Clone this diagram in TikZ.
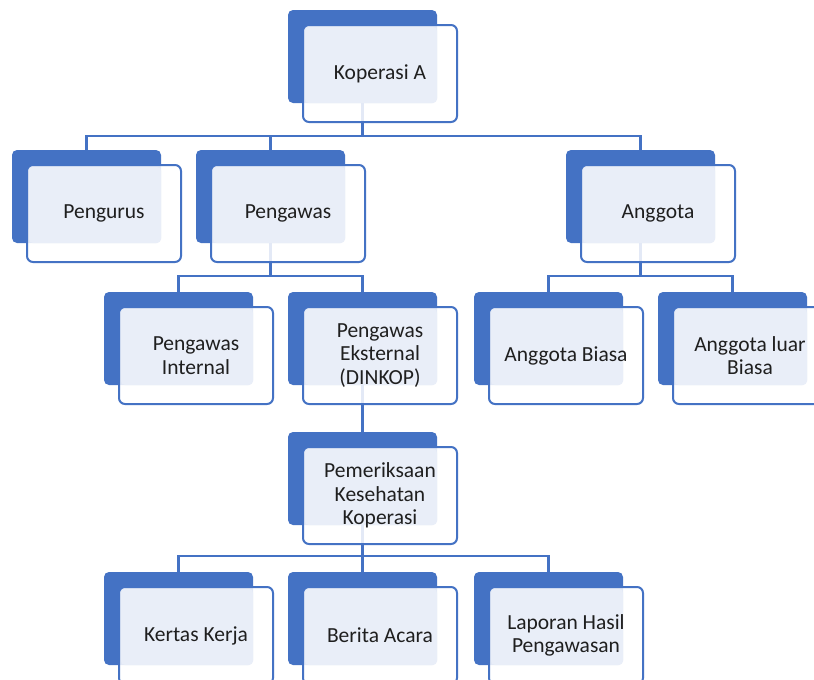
\documentclass[tikz,border=0pt]{standalone}
\usepackage{fontspec}
\setmainfont{Carlito}
\usetikzlibrary{backgrounds}
\definecolor{obBlue}{HTML}{4472C4}
\definecolor{obLight}{HTML}{E9EEF8}
\definecolor{obText}{HTML}{1F1F1F}
\tikzset{
  backbox/.style={fill=obBlue, draw=none, rounded corners=5pt, minimum width=149pt, minimum height=93pt, inner sep=0pt, outer sep=0pt, anchor=north west},
  frontbox/.style={fill=white, fill opacity=0.85, draw=obBlue, draw opacity=1, line width=2pt, rounded corners=6pt, minimum width=154pt, minimum height=97pt, inner sep=0pt, outer sep=0pt, anchor=north west},
  lightbox/.style={fill=obLight, draw=none, rounded corners=4pt, minimum width=132pt, minimum height=76pt, inner sep=0pt, outer sep=0pt, anchor=north west},
  boxtext/.style={text=obText, font=\fontsize{21.5}{23.5}\selectfont, align=center, inner sep=0pt},
  link/.style={draw=obBlue, line width=2.2pt},
}
\newcommand{\orgitem}[4]{%
  \node[backbox] (#1B) at (#2,#3) {};
  \node[frontbox, xshift=15pt, yshift=-15pt] (#1F) at (#2,#3) {};
  \node[lightbox, xshift=17pt, yshift=-17pt] (#1L) at (#2,#3) {};
  \node[boxtext, xshift=92pt, yshift=-63.5pt] (#1) at (#2,#3) {#4};
}
\begin{document}
\begin{tikzpicture}[x=1pt, y=-1pt]
  \useasboundingbox (0,0) rectangle (814,680);
  \clip (0,0) rectangle (814,680);

  \orgitem{kop}{288}{10}{Koperasi A}
  \orgitem{pengurus}{12}{150}{Pengurus}
  \orgitem{pengawas}{196}{150}{Pengawas}
  \orgitem{anggota}{566}{150}{Anggota}
  \orgitem{pint}{104}{292}{Pengawas\\Internal}
  \orgitem{pext}{288}{292}{Pengawas\\Eksternal\\(DINKOP)}
  \orgitem{abiasa}{474}{292}{Anggota Biasa}
  \orgitem{aluar}{658}{292}{Anggota luar\\Biasa}
  \orgitem{periksa}{288}{432}{Pemeriksaan\\Kesehatan\\Koperasi}
  \orgitem{kertas}{104}{572}{Kertas Kerja}
  \orgitem{berita}{288}{572}{Berita Acara}
  \orgitem{laporan}{474}{572}{Laporan Hasil\\Pengawasan}

  \coordinate (busA) at (0,136);
  \coordinate (busB) at (0,276);
  \coordinate (busC) at (0,556);

  \begin{pgfonlayer}{background}
    \fill[white] (0,0) rectangle (814,680);
    \draw[link] (kopB.center) -- (kopB.center |- busA);
    \draw[link] (pengurusB.north) |- (anggotaB.north |- busA) -- (anggotaB.north);
    \draw[link] (pengawasB.north |- busA) -- (pengawasB.north);

    \draw[link] (pengawasB.center) -- (pengawasB.center |- busB);
    \draw[link] (pintB.north) |- (pextB.north |- busB) -- (pextB.north);

    \draw[link] (anggotaB.center) -- (anggotaB.center |- busB);
    \draw[link] (abiasaB.north) |- (aluarB.north |- busB) -- (aluarB.north);

    \draw[link] (pextB.center) -- (periksaB.north);

    \draw[link] (periksaB.center) -- (periksaB.center |- busC);
    \draw[link] (kertasB.north) |- (laporanB.north |- busC) -- (laporanB.north);
    \draw[link] (beritaB.north |- busC) -- (beritaB.north);
  \end{pgfonlayer}
\end{tikzpicture}
\end{document}
